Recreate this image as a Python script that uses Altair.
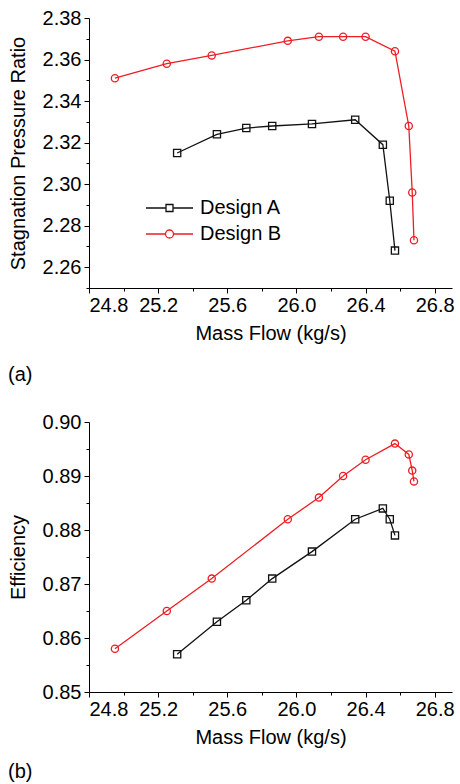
import altair as alt
import pandas as pd

designs = ["Design A", "Design B"]
colors = ["#111111", "#ee1d23"]
shapes = ["square", "circle"]

mass_a = [25.31, 25.54, 25.71, 25.86, 26.09, 26.34, 26.50, 26.54, 26.57]
pr_a = [2.315, 2.324, 2.327, 2.328, 2.329, 2.331, 2.319, 2.292, 2.268]
eff_a = [0.857, 0.863, 0.867, 0.871, 0.876, 0.882, 0.884, 0.882, 0.879]

mass_b = [24.95, 25.25, 25.51, 25.95, 26.13, 26.27, 26.40, 26.57, 26.65, 26.67, 26.68]
pr_b = [2.351, 2.358, 2.362, 2.369, 2.371, 2.371, 2.371, 2.364, 2.328, 2.296, 2.273]
eff_b = [0.858, 0.865, 0.871, 0.882, 0.886, 0.890, 0.893, 0.896, 0.894, 0.891, 0.889]

x_ticks = [24.8, 25.0, 25.2, 25.4, 25.6, 25.8, 26.0, 26.2, 26.4, 26.6, 26.8]
pr_ticks = [2.25, 2.26, 2.27, 2.28, 2.29, 2.30, 2.31, 2.32, 2.33, 2.34, 2.35, 2.36, 2.37, 2.38]
eff_ticks = [0.85, 0.855, 0.86, 0.865, 0.87, 0.875, 0.88, 0.885, 0.89, 0.895, 0.90]

rows = []
for i, (m, p, e) in enumerate(zip(mass_a, pr_a, eff_a)):
    rows.append({"design": designs[0], "mass": m, "pr": p, "eff": e, "order": i})
for i, (m, p, e) in enumerate(zip(mass_b, pr_b, eff_b)):
    rows.append({"design": designs[1], "mass": m, "pr": p, "eff": e, "order": i})
df = pd.DataFrame(rows)

FONT = "Liberation Sans"

PATH_A = "M-2.35,0H-0.35M0.35,0H2.35M-0.35,-0.35H0.35V0.35H-0.35Z"
PATH_B = "M-2.35,0H-0.4M0.4,0H2.35M0.4,0A0.4,0.4,0,1,1,-0.4,0A0.4,0.4,0,1,1,0.4,0Z"

x_major = "round((datum.value - 24.8) * 10) % 4 == 0"
x_axis = alt.Axis(
    values=x_ticks, format=".1f",
    labelExpr=f"{x_major} ? datum.label : ''",
    tickSize={"condition": {"test": x_major, "value": 5}, "value": 3},
    labelPadding=2, titlePadding=8,
)


def panel(ycol, ytitle, yticks, ydomain, y_major, fmt, lx, ly, label, toff):
    y_axis = alt.Axis(
        values=yticks, format=fmt,
        labelExpr=f"{y_major} ? datum.label : ''",
        tickSize={"condition": {"test": y_major, "value": 5}, "value": 3},
        labelPadding=3, titlePadding=14,
    )
    legend = alt.Legend(
        title=None, orient="none", legendX=lx, legendY=ly, padding=0,
        symbolSize=400, symbolStrokeWidth=1.3, labelOffset=19.5, rowPadding=5,
        symbolFillColor="transparent",
        symbolType=alt.ExprRef(expr=f"datum.value === 'Design A' ? '{PATH_A}' : '{PATH_B}'"),
        labelFont=FONT, labelFontSize=20, labelColor="black", labelLimit=300,
    )
    color = alt.Color("design:N", scale=alt.Scale(domain=designs, range=colors), legend=legend)
    x = alt.X("mass:Q", title="Mass Flow (kg/s)", scale=alt.Scale(domain=[24.8, 26.9], nice=False, zero=False), axis=x_axis)
    y = alt.Y(f"{ycol}:Q", title=ytitle, scale=alt.Scale(domain=ydomain, nice=False, zero=False), axis=y_axis)
    base = alt.Chart(df)
    line = base.mark_line(strokeWidth=1.3).encode(x=x, y=y, color=color, order="order:O")
    layers = [line]
    for d, s in zip(designs, shapes):
        layers.append(
            base.transform_filter(alt.datum.design == d)
            .mark_point(size=52, strokeWidth=1.3, filled=False, opacity=1, shape=s)
            .encode(x=x, y=y, color=color)
        )
    return alt.layer(*layers).properties(
        width=363, height=270,
        title=alt.TitleParams(label, orient="bottom", anchor="start", frame="bounds",
                              fontSize=20, font=FONT, fontWeight="normal", color="black", offset=toff),
    )


top = panel("pr", "Stagnation Pressure Ratio", pr_ticks, [2.25, 2.38],
            "round(datum.value * 100) % 2 == 0", ".2f", 69.5, 179, "(a)", 22)
bottom = panel("eff", "Efficiency", eff_ticks, [0.85, 0.90],
               "abs(datum.value * 100 - round(datum.value * 100)) < 0.01", ".2f", 40.5, 21, "(b)", 15)

chart = alt.vconcat(top, bottom, spacing=27).properties(
    padding={"left": 8, "top": 8, "right": 5, "bottom": 0}
).configure_view(stroke=None).configure_axis(
    grid=False, domainColor="black", tickColor="black", domainWidth=1, tickWidth=1,
    labelFont=FONT, labelFontSize=20, labelColor="black",
    titleFont=FONT, titleFontSize=20, titleFontWeight="normal", titleColor="black",
)

chart.save("out.html", embed_options={"renderer": "svg", "actions": False})
